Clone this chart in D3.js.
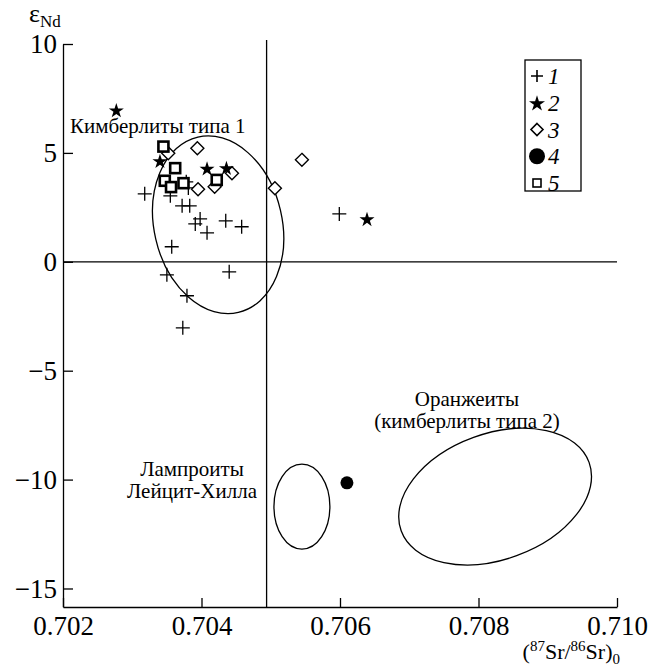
<!DOCTYPE html>
<head>
<meta charset="utf-8">
<title>eNd vs 87Sr/86Sr</title>
<script src="https://d3js.org/d3.v7.min.js"></script>
</head>
<style>
body { margin: 0; background: #fff; }
svg text { font-family: "Liberation Serif", "Times New Roman", serif; fill: #000; }
.axis path, .axis line { stroke: #000; stroke-width: 1.3; }
</style>
<body>
<svg class="chart"></svg>
</body>
<script>
// --- data ---
var groups = ["1", "2", "3", "4", "5"];

var crossPts = [ // group 1
  [0.70318, 3.12], [0.70355, 3.03], [0.70378, 3.67], [0.70381, 3.39],
  [0.70372, 2.57], [0.70383, 2.57], [0.70398, 1.97], [0.70391, 1.74],
  [0.70408, 1.33], [0.70435, 1.88], [0.70458, 1.61], [0.70357, 0.69],
  [0.70350, -0.60], [0.70440, -0.46], [0.70379, -1.56], [0.70373, -3.03],
  [0.70599, 2.20]
];
var starPts = [ // group 2
  [0.70277, 6.93], [0.70340, 4.60], [0.70408, 4.25], [0.70436, 4.28], [0.70639, 1.93]
];
var diamondPts = [ // group 3
  [0.70394, 5.21], [0.70352, 4.98], [0.70444, 4.07], [0.70419, 3.45],
  [0.70395, 3.33], [0.70506, 3.38], [0.70545, 4.68]
];
var circlePts = [ // group 4
  [0.70610, -10.15]
];
var squarePts = [ // group 5
  [0.70345, 5.29], [0.70362, 4.30], [0.70347, 3.72], [0.70356, 3.43],
  [0.70422, 3.76], [0.70374, 3.61]
];

// fields: centre Sr, centre eNd, half-width (Sr), half-height (eNd), tilt deg
var fields = [
  [0.70424, 1.70, 0.000924, 4.13, -13],
  [0.70545, -11.24, 0.000404, 1.95, 0],
  [0.70824, -10.78, 0.001444, 2.89, -20]
];

var xTicks = [0.702, 0.704, 0.706, 0.708, 0.710];
var yTicks = [-15, -10, -5, 0, 5, 10];
var srLine = 0.70494;

// --- set up chart ---
var W = 658, H = 668;
var svg = d3.select(".chart").attr("width", W).attr("height", H);

var x = d3.scaleLinear().domain([0.702, 0.710]).range([63, 617]);
var y = d3.scaleLinear().domain([-15.85, 10]).range([607, 44]);

// reference lines
svg.append("line")
  .attr("x1", x(srLine)).attr("x2", x(srLine))
  .attr("y1", y(10) - 4).attr("y2", y(-15.85))
  .attr("stroke", "#000").attr("stroke-width", 1.3);
svg.append("line")
  .attr("x1", x(0.702)).attr("x2", x(0.710))
  .attr("y1", y(0)).attr("y2", y(0))
  .attr("stroke", "#000").attr("stroke-width", 1.3);

// axes, ticks pointing inward
var xAxisG = svg.append("g").attr("class", "axis")
  .attr("transform", "translate(0," + y(-15.85) + ")")
  .call(d3.axisBottom(x).tickValues(xTicks).tickFormat(d3.format(".3f"))
    .tickSize(-9).tickSizeOuter(0).tickPadding(9));
var yAxisG = svg.append("g").attr("class", "axis")
  .attr("transform", "translate(" + x(0.702) + ",0)")
  .call(d3.axisLeft(y).tickValues(yTicks).tickSize(-10).tickSizeOuter(0).tickPadding(6));
[xAxisG, yAxisG].forEach(function(g){
  g.attr("font-family", null).attr("font-size", null);
  g.selectAll("text")
    .style("font-family", "'Liberation Serif', serif")
    .style("font-size", "27px");
});

// fields (ellipses)
svg.selectAll(".field").data(fields).enter()
  .append("ellipse")
  .attr("class", "field")
  .attr("cx", 0).attr("cy", 0)
  .attr("rx", function(d){ return x(d[0] + d[2]) - x(d[0]); })
  .attr("ry", function(d){ return y(d[1]) - y(d[1] + d[3]); })
  .attr("transform", function(d){
    return "translate(" + x(d[0]) + "," + y(d[1]) + ") rotate(" + d[4] + ")";
  })
  .attr("fill", "none").attr("stroke", "#000").attr("stroke-width", 1.3);

// symbol shapes
function plusPath(s){ return "M" + (-s) + ",0H" + s + "M0," + (-s) + "V" + s; }
function diamondPath(s){ return "M0," + (-s) + "L" + s + ",0L0," + s + "L" + (-s) + ",0Z"; }
var starPath = d3.symbol().type(d3.symbolStar).size(70)();
var starPathLeg = d3.symbol().type(d3.symbolStar).size(80)();

function tr(d){ return "translate(" + x(d[0]) + "," + y(d[1]) + ")"; }

svg.selectAll(".p1").data(crossPts).enter().append("path")
  .attr("class", "p1").attr("d", plusPath(7)).attr("transform", tr)
  .attr("stroke", "#000").attr("stroke-width", 1.3).attr("fill", "none");
svg.selectAll(".p3").data(diamondPts).enter().append("path")
  .attr("class", "p3").attr("d", diamondPath(6.5)).attr("transform", tr)
  .attr("stroke", "#000").attr("stroke-width", 1.4).attr("fill", "#fff");
svg.selectAll(".p5").data(squarePts).enter().append("rect")
  .attr("class", "p5")
  .attr("x", function(d){ return x(d[0]) - 5; })
  .attr("y", function(d){ return y(d[1]) - 5; })
  .attr("width", 10).attr("height", 10)
  .attr("stroke", "#000").attr("stroke-width", 2.6).attr("fill", "#fff");
svg.selectAll(".p2").data(starPts).enter().append("path")
  .attr("class", "p2").attr("d", starPath).attr("transform", tr)
  .attr("fill", "#000");
svg.selectAll(".p4").data(circlePts).enter().append("circle")
  .attr("class", "p4")
  .attr("cx", function(d){ return x(d[0]); })
  .attr("cy", function(d){ return y(d[1]); })
  .attr("r", 6.5).attr("fill", "#000");

// legend
var leg = svg.append("g").attr("transform", "translate(525,60)");
leg.append("rect").attr("width", 56).attr("height", 131)
  .attr("fill", "#fff").attr("stroke", "#000").attr("stroke-width", 1.3);
var rowY = d3.scalePoint().domain(groups).range([16, 123]);
var lg = leg.selectAll(".lrow").data(groups).enter().append("g")
  .attr("transform", function(d){ return "translate(0," + rowY(d) + ")"; });
lg.append("text").attr("x", 23).attr("y", 8)
  .style("font-size", "23px").style("font-style", "italic")
  .text(function(d){ return d; });
lg.each(function(d){
  var g = d3.select(this);
  if (d === "1") g.append("path").attr("d", plusPath(6)).attr("transform", "translate(12,0)")
    .attr("stroke", "#000").attr("stroke-width", 1.6);
  if (d === "2") g.append("path").attr("d", starPathLeg).attr("transform", "translate(12,1)");
  if (d === "3") g.append("path").attr("d", diamondPath(6)).attr("transform", "translate(12,0)")
    .attr("stroke", "#000").attr("stroke-width", 1.6).attr("fill", "none");
  if (d === "4") g.append("circle").attr("cx", 12).attr("cy", 0).attr("r", 8);
  if (d === "5") g.append("rect").attr("x", 8).attr("y", -4).attr("width", 8).attr("height", 8)
    .attr("stroke", "#000").attr("stroke-width", 1.6).attr("fill", "none");
});

// annotations
svg.append("text").attr("x", 70).attr("y", 133).style("font-size", "21px")
  .text("Кимберлиты типа 1");
svg.append("text").attr("x", 467).attr("y", 406).attr("text-anchor", "middle")
  .style("font-size", "21px").text("Оранжеиты");
svg.append("text").attr("x", 467).attr("y", 428).attr("text-anchor", "middle")
  .style("font-size", "21px").text("(кимберлиты типа 2)");
svg.append("text").attr("x", 192).attr("y", 476).attr("text-anchor", "middle")
  .style("font-size", "21px").text("Лампроиты");
svg.append("text").attr("x", 192).attr("y", 498).attr("text-anchor", "middle")
  .style("font-size", "21px").text("Лейцит-Хилла");

// axis titles
var yt = svg.append("text").attr("x", 29).attr("y", 22).style("font-size", "26px");
yt.append("tspan").text("ε");
yt.append("tspan").attr("dy", 5).style("font-size", "17px").text("Nd");

var xt = svg.append("text").attr("x", 620).attr("y", 659).attr("text-anchor", "end")
  .style("font-size", "22px");
xt.append("tspan").text("(");
xt.append("tspan").attr("dy", -8).style("font-size", "15px").text("87");
xt.append("tspan").attr("dy", 8).text("Sr/");
xt.append("tspan").attr("dy", -8).style("font-size", "15px").text("86");
xt.append("tspan").attr("dy", 8).text("Sr)");
xt.append("tspan").attr("dy", 5).style("font-size", "15px").text("0");
</script>
